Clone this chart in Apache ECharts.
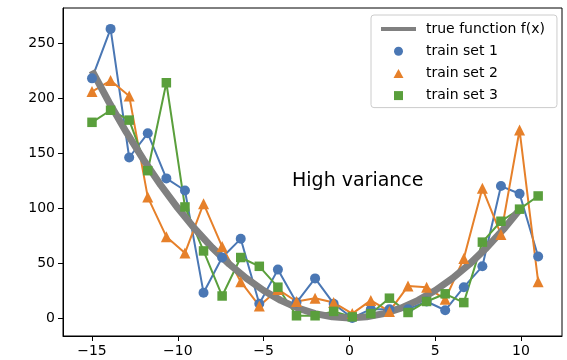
<!DOCTYPE html>
<html>
<head>
<meta charset="utf-8">
<script src="https://cdn.jsdelivr.net/npm/echarts@6/dist/echarts.min.js"></script>
<style>html,body{margin:0;padding:0;background:#fff;}#c{width:567px;height:360px;}</style>
</head>
<body>
<div id="c"></div>
<script>
// x positions of the training samples
const trainX = [-15, -13.917, -12.833, -11.75, -10.667, -9.583, -8.5, -7.417, -6.333, -5.25, -4.167, -3.083, -2.0, -0.917, 0.167, 1.25, 2.333, 3.417, 4.5, 5.583, 6.667, 7.75, 8.833, 9.917, 11];
const set1 = [218, 263, 146, 168, 127, 116, 23, 55, 72, 13, 44, 14, 36, 13, 0, 8, 8, 8, 15, 7, 28, 47, 120, 113, 56];
const set2 = [206, 216, 202, 110, 74, 59, 104, 65, 33, 11, 26, 15, 18, 14, 4, 16, 6, 29, 28, 17, 54, 118, 76, 171, 33];
const set3 = [178, 189, 180, 134, 214, 101, 61, 20, 55, 47, 28, 2, 2, 6, 1, 4, 18, 5, 15, 22, 14, 69, 88, 99, 111];
// true function curve
const trueX = [-15, -14, -13, -12, -11, -10, -9, -8, -7, -6, -5, -4, -3, -2, -1, 0, 1, 2, 3, 4, 5, 6, 7, 8, 9, 10];
const trueY = [225, 196, 169, 144, 121, 100, 81, 64, 49, 36, 25, 16, 9, 4, 1, 0, 1, 4, 9, 16, 25, 36, 49, 64, 81, 100];
const xTicks = [-15, -10, -5, 0, 5, 10];
const yTicks = [0, 50, 100, 150, 200, 250];
const names = ['true function f(x)', 'train set 1', 'train set 2', 'train set 3'];

const pairs = (xs, ys) => xs.map((x, i) => [x, ys[i]]);
const colors = ['#4a77b4', '#e6802a', '#5a9f3c'];
const font = 'DejaVu Sans';
const minus = v => String(v).replace('-', '\u2212');

const chart = echarts.init(document.getElementById('c'), null, {renderer: 'canvas'});
const trainSeries = [set1, set2, set3].map((d, k) => ({
  name: names[k + 1],
  type: 'line',
  data: pairs(trainX, d),
  symbol: ['circle', 'triangle', 'rect'][k],
  symbolSize: [10, 11, 9.5][k],
  showSymbol: true,
  lineStyle: {width: 2, color: colors[k]},
  itemStyle: {color: colors[k], borderWidth: 0},
  emphasis: {disabled: true}
}));
chart.setOption({
  animation: false,
  grid: {left: 63, right: 5, top: 8, bottom: 24, show: true, borderColor: '#000', borderWidth: 1, backgroundColor: 'transparent'},
  xAxis: {
    type: 'value', min: -16.69, max: 12.39,
    axisLine: {show: true, onZero: false, lineStyle: {color: '#000', width: 1}},
    axisTick: {show: true, length: 5, inside: false, customValues: xTicks, lineStyle: {color: '#000', width: 1}},
    axisLabel: {customValues: xTicks, color: '#000', fontFamily: font, fontSize: 14, margin: 8, formatter: minus},
    splitLine: {show: false}
  },
  yAxis: {
    type: 'value', min: -16.4, max: 282,
    axisLine: {show: true, onZero: false, lineStyle: {color: '#000', width: 1}},
    axisTick: {show: true, length: 5, inside: false, customValues: yTicks, lineStyle: {color: '#000', width: 1}},
    axisLabel: {customValues: yTicks, color: '#000', fontFamily: font, fontSize: 14, margin: 8, formatter: minus},
    splitLine: {show: false}
  },
  legend: {
    orient: 'vertical', left: 371, top: 15,
    padding: [3, 12, 1, 10],
    itemWidth: 35, itemHeight: 9, itemGap: 0.2,
    symbolKeepAspect: true,
    backgroundColor: 'rgba(255,255,255,0.8)', borderColor: '#cccccc', borderWidth: 1, borderRadius: 3,
    textStyle: {fontFamily: font, fontSize: 14, color: '#000', lineHeight: 22, padding: [0, 0, 0, 5]},
    selectedMode: false,
    data: [
      {name: names[0], icon: 'path://M0,0H35V4.2H0Z', itemStyle: {color: '#808080'}},
      {name: names[1], icon: 'circle'},
      {name: names[2], icon: 'path://M0,9L5,0L10,9Z'},
      {name: names[3], icon: 'path://M0,0H8V8H0Z'}
    ]
  },
  graphic: [{
    type: 'text', left: 292, top: 172,
    style: {text: 'High variance', font: '19px "DejaVu Sans"', fill: '#000'}
  }],
  series: trainSeries.concat([{
    name: names[0], type: 'line', data: pairs(trueX, trueY),
    showSymbol: false, symbol: 'none',
    lineStyle: {width: 7, color: '#808080'}, itemStyle: {color: '#808080'},
    emphasis: {disabled: true}
  }])
});
</script>
</body>
</html>
